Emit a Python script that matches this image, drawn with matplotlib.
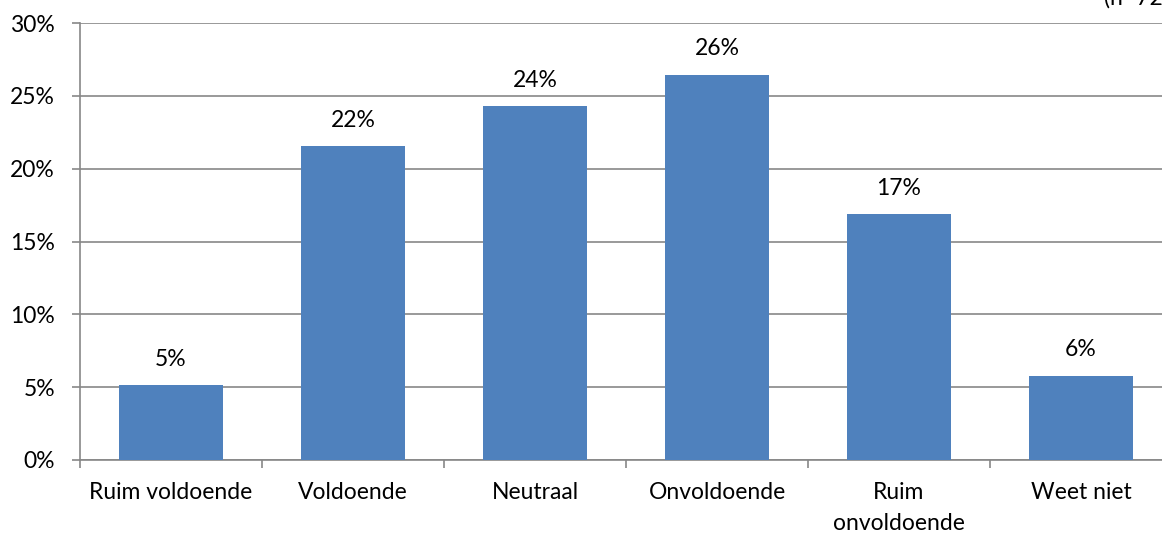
import matplotlib
matplotlib.use("Agg")
import matplotlib.pyplot as plt
import numpy as np
from matplotlib.ticker import FuncFormatter, MultipleLocator

plt.rcParams['font.family'] = ['Lato', 'DejaVu Sans']

# ------------------ DADOS ------------------
categories = ['Ruim voldoende', 'Voldoende', 'Neutraal', 'Onvoldoende',
              'Ruim\nonvoldoende', 'Weet niet']
values = [5.15, 21.55, 24.3, 26.45, 16.9, 5.8]
labels = ['5%', '22%', '24%', '26%', '17%', '6%']
note = '(n=72)'

bar_color = '#4F81BD'
grid_color = '#878787'
fs = 16.5

# ------------------ FIGURA ------------------
fig = plt.figure(figsize=(11.62, 5.36), dpi=100)
# eixo vai além da borda direita (como no original)
ax = fig.add_axes([80 / 1162, 76 / 536, 1092 / 1162, 437 / 536])

x = np.arange(len(categories))
ax.bar(x, values, width=0.57, color=bar_color, zorder=3)

for xi, v, lab in zip(x, values, labels):
    ax.text(xi, v + 1.05, lab, ha='center', va='bottom', fontsize=fs, color='black')

ax.set_xlim(-0.5, len(categories) - 0.5)
ax.set_ylim(0, 30)
ax.yaxis.set_major_locator(MultipleLocator(5))
ax.yaxis.set_major_formatter(FuncFormatter(lambda v, p: f'{v:.0f}%'))
ax.grid(axis='y', color=grid_color, linewidth=1.2, zorder=0)

ax.set_xticks(np.arange(len(categories) + 1) - 0.5)
ax.set_xticklabels([])
ax.set_xticks(x, minor=True)
ax.set_xticklabels(categories, minor=True, fontsize=fs, linespacing=1.6)
ax.tick_params(axis='x', which='minor', length=0, pad=16)
ax.tick_params(axis='x', which='major', length=6, color=grid_color, width=1.2)
ax.tick_params(axis='y', length=6, color=grid_color, width=1.2, labelsize=fs, pad=12)

for s in ['top', 'right']:
    ax.spines[s].set_visible(False)
for s in ['left', 'bottom']:
    ax.spines[s].set_color(grid_color)
    ax.spines[s].set_linewidth(1.2)

# nota (cortada na borda, como no original)
fig.text(1104 / 1162, 1 - 5 / 536, note, ha='left', va='baseline', fontsize=fs)

fig.savefig('out.png', dpi=100)
